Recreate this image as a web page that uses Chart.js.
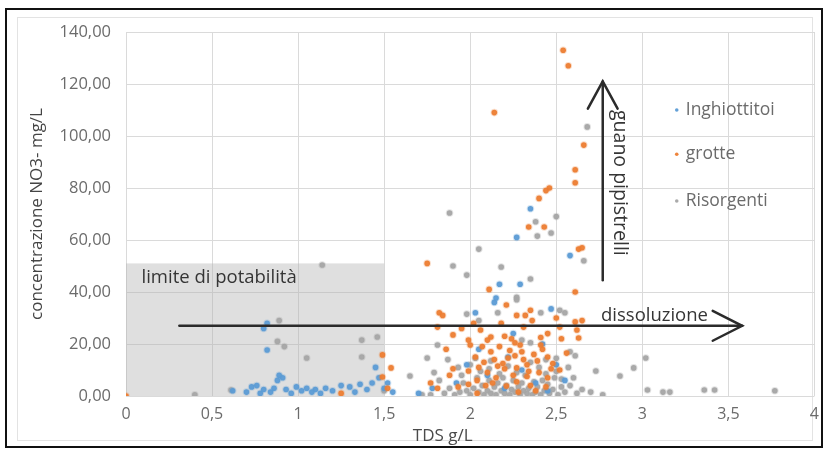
<!DOCTYPE html>
<html>
<head>
<meta charset="utf-8">
<script src="https://cdn.jsdelivr.net/npm/chart.js@4/dist/chart.umd.min.js"></script>
<style>
  html, body { margin: 0; padding: 0; background: #fff; }
  #nitrateChart { display: block; }
</style>
</head>
<body>
<canvas id="nitrateChart" width="828" height="451"></canvas>
<script>
// TDS (g/L) vs nitrate (mg/L) for three groups of karst water samples

const seriesNames = ['Inghiottitoi', 'grotte', 'Risorgenti'];

// Inghiottitoi (blue)
const inghiottitoiTDS = [0.62, 0.70, 0.73, 0.76, 0.78, 0.80, 0.84, 0.86, 0.88, 0.89, 0.91, 0.93, 0.96, 0.99,
  1.02, 1.05, 1.08, 1.10, 1.13, 1.16, 1.20, 1.25, 1.30, 1.33, 1.36, 1.40, 1.43, 1.45, 1.47, 1.50, 1.52, 1.55,
  0.82, 0.82, 0.80, 1.70, 1.78, 1.92, 1.98, 2.03, 2.05, 2.10, 2.14, 2.15, 2.17, 2.22, 2.25, 2.29, 2.30, 2.35,
  2.27, 2.38, 2.42, 2.47, 2.50, 2.55, 2.58, 2.20, 2.45];
const inghiottitoiNO3 = [2, 1.5, 3.5, 4, 1, 2.5, 1.5, 3, 6, 8, 7, 2.5, 1, 3.5,
  2, 3, 1.5, 2.5, 1, 3, 2, 4, 3.5, 1.5, 4.5, 2.5, 5, 11, 7, 3, 5, 1.5,
  17.7, 28, 26, 1, 3, 5, 12, 32, 18, 8, 36, 37.7, 43, 15, 24, 43, 10, 72,
  61, 5, 20, 33.5, 12, 6, 54, 3, 2];

// grotte (orange)
const grotteTDS = [0, 1.25, 1.49, 1.54, 1.49, 1.52,
  2.54, 2.57, 2.14, 2.66, 2.61, 2.61, 2.46, 2.44, 2.40, 2.34, 2.43, 2.63, 2.65, 1.75, 2.11, 2.61,
  2.21, 2.35, 1.82, 1.84, 2.27, 2.32, 2.50, 2.61, 2.65, 1.81, 2.06, 2.31, 2.52, 2.62, 1.90, 2.12,
  2.20, 1.99, 2.10, 2.24, 2.41, 2.53, 2.63, 2.00, 2.07, 2.17, 2.29, 2.41, 2.56, 2.03, 2.14, 2.22,
  2.31, 2.26, 1.90, 1.99, 2.10, 2.20, 2.27, 2.33, 2.40, 2.16, 1.77, 1.81, 1.93, 1.99, 2.04, 2.09,
  2.13, 2.21, 2.27, 2.35, 2.44, 2.04, 2.28, 2.38, 2.15, 2.25, 2.33, 2.45, 2.48, 2.37, 1.95, 2.02,
  2.18, 2.36, 2.45, 2.05, 2.45, 2.52, 1.86, 1.88,
  2.23, 2.30, 2.39, 2.19, 2.26, 2.34, 2.12, 2.08, 2.42, 2.47];
const grotteNO3 = [0, 1, 15.8, 10.8, 7.3, 3,
  133, 127, 109, 96.5, 87, 82, 80, 79, 76, 65, 65, 56.5, 57, 51, 41, 40,
  35, 33, 32, 31, 31, 31, 30, 28.5, 29, 26.5, 25.4, 26.5, 26.5, 25.4, 23.5, 22.7,
  23, 21.5, 21.5, 22, 22.5, 22, 22.3, 19.6, 19, 19, 19.6, 19.6, 16.5, 15, 14, 14.6,
  14, 15.5, 10.5, 9.6, 9, 10.5, 10.8, 12, 9, 11.5, 5, 3, 3.5, 4.5, 6, 4,
  5, 3.8, 5.5, 4, 3.5, 1, 1.5, 2, 7, 8, 7.5, 7, 12.5, 16, 26, 28,
  28, 29, 24, 11, 15, 10, 18, 8,
  17.5, 17, 13.5, 12.5, 20.5, 9.5, 17, 13, 18, 10.5];

// Risorgenti (grey)
const risorgentiTDS = [2.68, 1.88, 2.50, 2.38, 2.39, 2.47, 2.05, 2.66, 1.14, 1.90, 2.18, 1.98, 2.35, 2.27,
  2.27, 2.16, 2.41, 2.52, 2.55, 1.98, 2.05, 0.89, 0.88, 0.92, 1.05, 1.37, 1.46, 1.37, 1.50, 0.61, 0.40,
  1.81, 2.35, 2.30, 2.58, 2.61, 1.75, 1.87, 2.03, 2.12, 2.35, 2.44, 2.50, 1.65, 2.73, 2.87, 2.95, 3.02,
  3.03, 3.12, 3.16, 3.36, 3.42, 3.77, 2.77, 1.93, 2.00, 2.11, 2.22, 2.40, 2.50, 2.57,
  1.72, 1.77, 1.85, 1.88, 1.91, 1.94, 1.96, 1.98, 2.00, 2.02, 2.04, 2.05, 2.07, 2.08, 2.10, 2.11,
  2.12, 2.14, 2.15, 2.16, 2.18, 2.19, 2.20, 2.21, 2.23, 2.24, 2.25, 2.26, 2.28, 2.29, 2.30, 2.31,
  2.32, 2.33, 2.34, 2.36, 2.37, 2.38, 2.39, 2.41, 2.42, 2.43, 2.45, 2.46, 2.48, 2.49, 2.51, 2.53,
  2.55, 2.58, 2.62, 2.65, 2.70, 1.82, 1.79, 1.95, 2.06, 2.17, 2.27, 2.44, 2.53, 2.60];
const risorgentiNO3 = [103.5, 70.4, 69, 67, 61.5, 62.7, 56.5, 52, 50.4, 50, 49.6, 46.5, 45, 38,
  37, 32, 32, 33, 32, 31.5, 29, 29, 21, 19, 14.6, 21.5, 22.7, 15, 2, 2.3, 0.5,
  19.6, 20.5, 21.5, 17, 15.5, 14.6, 14, 14.5, 13.5, 13, 14, 14.5, 7.7, 9.6, 7.7, 10.8, 14.6,
  2.3, 1.5, 1.5, 2.3, 2.3, 2, 0.5, 11, 12, 10.5, 11.5, 11, 9.5, 11,
  0.5, 0.5, 1, 3, 0.5, 1.5, 5, 2, 0.5, 3, 7, 1.5, 4, 0.5, 2, 6,
  1, 3.5, 0.5, 5, 2, 7, 1, 4, 0.5, 2.5, 6, 1.5, 3.5, 0.5, 5, 2,
  8, 1, 3, 0.5, 5.5, 1.5, 3.5, 0.5, 6, 2, 4.5, 1, 2.5, 7, 0.5, 3.5,
  1.5, 4, 1, 2.5, 1.5, 6, 9, 8, 9.5, 8.5, 9, 8.5, 6.5, 7];

const xTicks = [0, 0.5, 1, 1.5, 2, 2.5, 3, 3.5, 4];
const yTicks = [0, 20, 40, 60, 80, 100, 120, 140];

const fillColors = ['rgba(91,155,213,0.95)', 'rgba(237,125,49,0.95)', 'rgba(165,165,165,0.95)'];
const haloColors = ['rgba(91,155,213,0.25)', 'rgba(237,125,49,0.25)', 'rgba(165,165,165,0.3)'];

const FONT = '"Open Sans", "DejaVu Sans", sans-serif';

function toPoints(xs, ys) {
  return xs.map((x, i) => ({ x: x, y: ys[i] }));
}

function comma(v, digits) {
  return (digits == null ? String(v) : v.toFixed(digits)).replace('.', ',');
}

// white page with black frame + light inner chart border
const framePlugin = {
  id: 'frame',
  beforeDraw(chart) {
    const ctx = chart.ctx;
    ctx.save();
    ctx.fillStyle = '#fff';
    ctx.fillRect(0, 0, chart.width, chart.height);
    ctx.strokeStyle = '#e3e3e3';
    ctx.lineWidth = 1;
    ctx.strokeRect(17.5, 17.5, 795, 423);
    ctx.strokeStyle = '#111';
    ctx.lineWidth = 2;
    ctx.strokeRect(6, 9, 816, 438);
    ctx.restore();
  }
};

function drawArrow(ctx, x1, y1, x2, y2, headLen, headSpread) {
  ctx.beginPath();
  ctx.moveTo(x1, y1);
  ctx.lineTo(x2, y2);
  ctx.stroke();
  const ang = Math.atan2(y2 - y1, x2 - x1);
  ctx.beginPath();
  ctx.moveTo(x2 - headLen * Math.cos(ang - headSpread), y2 - headLen * Math.sin(ang - headSpread));
  ctx.lineTo(x2, y2);
  ctx.lineTo(x2 - headLen * Math.cos(ang + headSpread), y2 - headLen * Math.sin(ang + headSpread));
  ctx.stroke();
}

// potability box, arrows and their captions (positions in data units)
const notesPlugin = {
  id: 'notes',
  beforeDatasetsDraw(chart) {
    const { ctx, scales: { x, y } } = chart;
    ctx.save();
    ctx.fillStyle = 'rgba(175,175,175,0.4)';
    const l = x.getPixelForValue(0), r = x.getPixelForValue(1.5);
    const t = y.getPixelForValue(51), b = y.getPixelForValue(0);
    ctx.fillRect(l, t, r - l, b - t);
    ctx.restore();
  },
  afterDatasetsDraw(chart) {
    const { ctx, scales: { x, y } } = chart;
    ctx.save();
    ctx.strokeStyle = '#2b2b2b';
    ctx.lineWidth = 2.5;
    ctx.lineCap = 'round';
    drawArrow(ctx, x.getPixelForValue(0.31), y.getPixelForValue(27),
      x.getPixelForValue(3.58), y.getPixelForValue(27), 33, 0.47);
    drawArrow(ctx, x.getPixelForValue(2.77), y.getPixelForValue(44.5),
      x.getPixelForValue(2.77), y.getPixelForValue(121), 31, 0.5);

    ctx.fillStyle = '#353535';
    ctx.font = '18.5px ' + FONT;
    ctx.textBaseline = 'middle';
    ctx.textAlign = 'left';
    ctx.fillText('limite di potabilità', x.getPixelForValue(0.09), y.getPixelForValue(45.5));
    ctx.fillText('dissoluzione', x.getPixelForValue(2.76), y.getPixelForValue(31));

    ctx.font = '19.5px ' + FONT;
    ctx.translate(x.getPixelForValue(2.87), y.getPixelForValue(110));
    ctx.rotate(Math.PI / 2);
    ctx.fillText('guano pipistrelli', 0, 0);
    ctx.restore();

    // x axis caption sits left of centre in the original
    ctx.save();
    ctx.fillStyle = '#4a4a4a';
    ctx.font = '17px ' + FONT;
    ctx.textAlign = 'center';
    ctx.textBaseline = 'middle';
    ctx.fillText('TDS g/L', x.getPixelForValue(1.84), 436);
    ctx.restore();
  }
};

// legend drawn inside the plot, top right
const insideLegendPlugin = {
  id: 'insideLegend',
  afterDraw(chart) {
    const { ctx, scales: { x, y } } = chart;
    ctx.save();
    ctx.font = '17.5px ' + FONT;
    ctx.textBaseline = 'middle';
    ctx.textAlign = 'left';
    const legendY = [110, 93, 75];
    seriesNames.forEach((name, i) => {
      const px = x.getPixelForValue(3.2);
      const py = y.getPixelForValue(legendY[i]);
      ctx.fillStyle = fillColors[i];
      ctx.beginPath();
      ctx.arc(px, py, 1.8, 0, Math.PI * 2);
      ctx.fill();
      ctx.fillStyle = '#6b6b6b';
      ctx.fillText(name, px + 9, py);
    });
    ctx.restore();
  }
};

const datasets = [
  toPoints(inghiottitoiTDS, inghiottitoiNO3),
  toPoints(grotteTDS, grotteNO3),
  toPoints(risorgentiTDS, risorgentiNO3)
].map((pts, i) => ({
  label: seriesNames[i],
  data: pts,
  backgroundColor: fillColors[i],
  borderColor: haloColors[i],
  borderWidth: 2,
  pointRadius: 2.8,
  order: i === 2 ? 3 : (i === 0 ? 2 : 1)
}));

new Chart(document.getElementById('nitrateChart').getContext('2d'), {
  type: 'scatter',
  data: { datasets: datasets },
  plugins: [framePlugin, notesPlugin, insideLegendPlugin],
  options: {
    responsive: false,
    animation: false,
    devicePixelRatio: 1,
    layout: { padding: { left: 18, right: 10, top: 32, bottom: 0 } },
    plugins: {
      legend: { display: false },
      tooltip: { enabled: false }
    },
    scales: {
      x: {
        type: 'linear',
        min: 0,
        max: 4,
        afterBuildTicks(scale) { scale.ticks = xTicks.map(v => ({ value: v })); },
        afterFit(scale) { scale.height = 55; },
        grid: { color: '#dadada', drawTicks: false },
        border: { display: false },
        ticks: {
          padding: 9,
          color: '#6b6b6b',
          font: { family: FONT, size: 16 },
          callback: v => comma(v)
        },
        title: { display: false }
      },
      y: {
        type: 'linear',
        min: 0,
        max: 140,
        afterBuildTicks(scale) { scale.ticks = yTicks.map(v => ({ value: v })); },
        afterFit(scale) { scale.width = 108; },
        grid: { color: '#dadada', drawTicks: false },
        border: { display: false },
        ticks: {
          padding: 15,
          color: '#6b6b6b',
          font: { family: FONT, size: 16.5 },
          callback: v => comma(v, 2)
        },
        title: {
          display: true,
          text: 'concentrazione NO3- mg/L',
          color: '#454545',
          font: { family: FONT, size: 17 },
          padding: { top: 9, bottom: 0 }
        }
      }
    }
  }
});
</script>
</body>
</html>
